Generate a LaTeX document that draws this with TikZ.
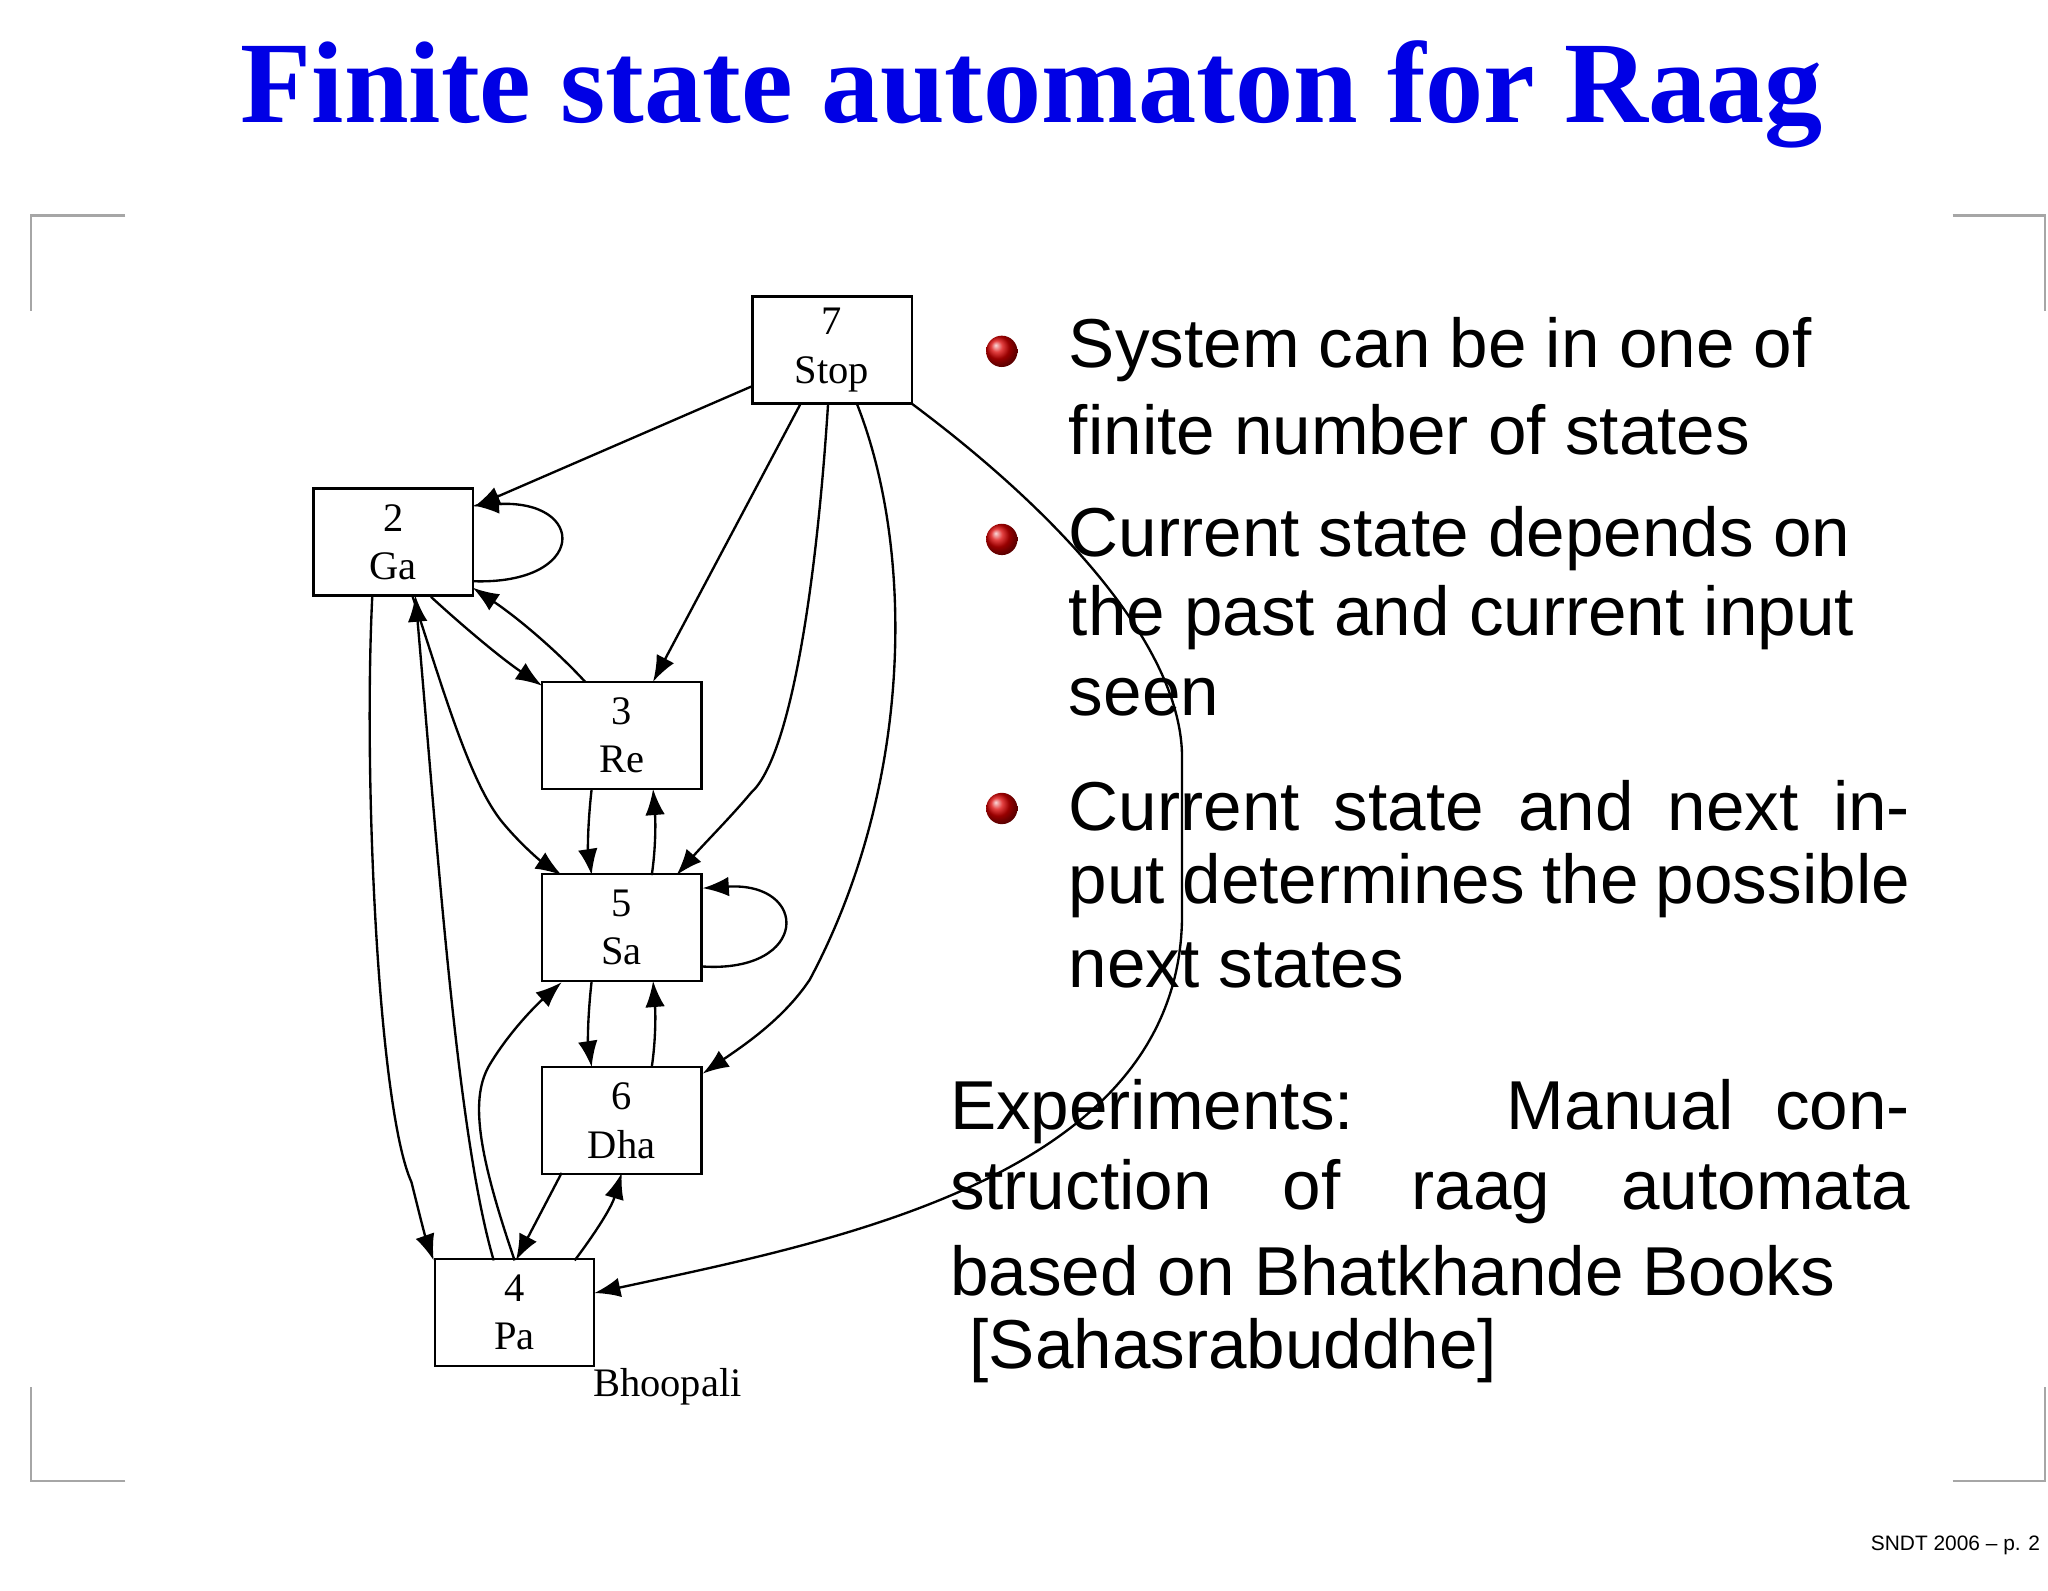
\documentclass[tikz,border=0pt]{standalone}
\usepackage{fontspec}
\setmainfont{Liberation Serif}
\newfontfamily\sansf{Liberation Sans}
\usetikzlibrary{arrows.meta,shadows}
\begin{document}
\begin{tikzpicture}[x=0.5pt,y=-0.5pt,
  st/.style={draw,line width=0.9pt,minimum width=61pt,minimum height=41pt,inner sep=0pt,align=center,font=\fontsize{15.5}{18.5}\selectfont},
  ed/.style={line width=0.9pt,-{Latex[length=10pt,width=7.5pt]}},
  bl/.style={font=\sansf\fontsize{26.5}{30}\selectfont,anchor=west,inner sep=0pt},
  ball/.style={circle,inner sep=0pt,minimum size=12pt,ball color=red!85!black,shading=ball}]
\useasboundingbox (0,0) rectangle (1568,1218);
\node[font=\bfseries\fontsize{44.5}{50}\selectfont,text=blue!90!black] (title) at (790,72) {Finite state automaton for Raag};
% corner marks
\draw[gray!70,line width=0.8pt] (96,165) -- (24,165) -- (24,238);
\draw[gray!70,line width=0.8pt] (96,1134) -- (24,1134) -- (24,1062);
\draw[gray!70,line width=0.8pt] (1495,165) -- (1566,165) -- (1566,238);
\draw[gray!70,line width=0.8pt] (1495,1134) -- (1566,1134) -- (1566,1062);
% nodes
\node[st] (n7) at (637,268) {7\\Stop};
\node[st] (n2) at (301,415) {2\\Ga};
\node[st] (n3) at (476,563) {3\\Re};
\node[st] (n5) at (476,710) {5\\Sa};
\node[st] (n6) at (476,858) {6\\Dha};
\node[st] (n4) at (394,1005) {4\\Pa};
\node[font=\fontsize{15.5}{18}\selectfont,anchor=west] (lab) at (447,1062) {Bhoopali};
% edges
\draw[ed] (n7.west |- 0,296) -- (n2.east |- 0,388);
\draw[ed] (362,445) .. controls (450,448) and (450,382) .. (362,387);
\draw[ed] (613,309) -- (500,522);
\draw[ed] (634,309) .. controls (625,450) and (605,580) .. (575,607) .. controls (560,625) and (540,645) .. (518,670);
\draw[ed] (656,309) .. controls (700,420) and (700,600) .. (620,750) .. controls (600,780) and (570,800) .. (538,822);
\draw[ed] (698,309) .. controls (820,400) and (905,500) .. (905,580) -- (905,700) .. controls (905,900) and (640,950) .. (455,990);
\draw[ed] (330,457) .. controls (355,480) and (385,505) .. (415,525);
\draw[ed] (448,522) .. controls (425,497) and (395,472) .. (362,450);
\draw[ed] (316,457) .. controls (340,530) and (360,600) .. (385,630) .. controls (400,648) and (415,660) .. (430,670);
\draw[ed] (378,965) .. controls (350,870) and (335,650) .. (318,456);
\draw[ed] (285,457) .. controls (278,600) and (290,850) .. (315,905) .. controls (320,925) and (325,945) .. (332,965);
\draw[ed] (453,604) .. controls (450,630) and (450,650) .. (453,670);
\draw[ed] (499,670) .. controls (502,650) and (502,630) .. (500,604);
\draw[ed] (538,740) .. controls (620,745) and (620,675) .. (538,680);
\draw[ed] (453,751) .. controls (450,777) and (450,797) .. (453,817);
\draw[ed] (499,817) .. controls (502,797) and (502,777) .. (500,751);
\draw[ed] (394,965) .. controls (365,880) and (360,840) .. (375,815) .. controls (390,790) and (410,770) .. (430,752);
\draw[ed] (430,898) -- (395,965);
\draw[ed] (440,965) .. controls (455,945) and (468,925) .. (476,898);
% bullets
\node[ball] (b1) at (767,269) {};
\node[ball] (b2) at (767,413) {};
\node[ball] (b3) at (767,619) {};
\node[bl] (t1) at (818,268) {System can be in one of};
\node[bl] (t2) at (818,329) {finite number of states};
\node[bl] (t3) at (818,412) {Current state depends on};
\node[bl] (t4) at (818,473) {the past and current input};
\node[bl] (t5) at (818,534) {seen};
\node[bl] (t6) at (818,617) {\makebox[322pt][s]{Current state and next in-}};
\node[bl] (t7) at (818,678) {\makebox[322pt][s]{put determines the possible}};
\node[bl] (t8) at (818,739) {next states};
\node[bl] (e1) at (727,851) {\makebox[367.5pt][s]{Experiments:\hspace{1.2em} Manual con-}};
\node[bl] (e2) at (727,912) {\makebox[367.5pt][s]{struction of raag automata}};
\node[bl] (e3) at (727,973) {based on Bhatkhande Books};
\node[bl] (e4) at (742,1034) {[Sahasrabuddhe]};
\node[font=\sansf\fontsize{8}{10}\selectfont,anchor=west,inner sep=0pt] (foot) at (1432,1183) {SNDT 2006 – p. 2};
\end{tikzpicture}
\end{document}
